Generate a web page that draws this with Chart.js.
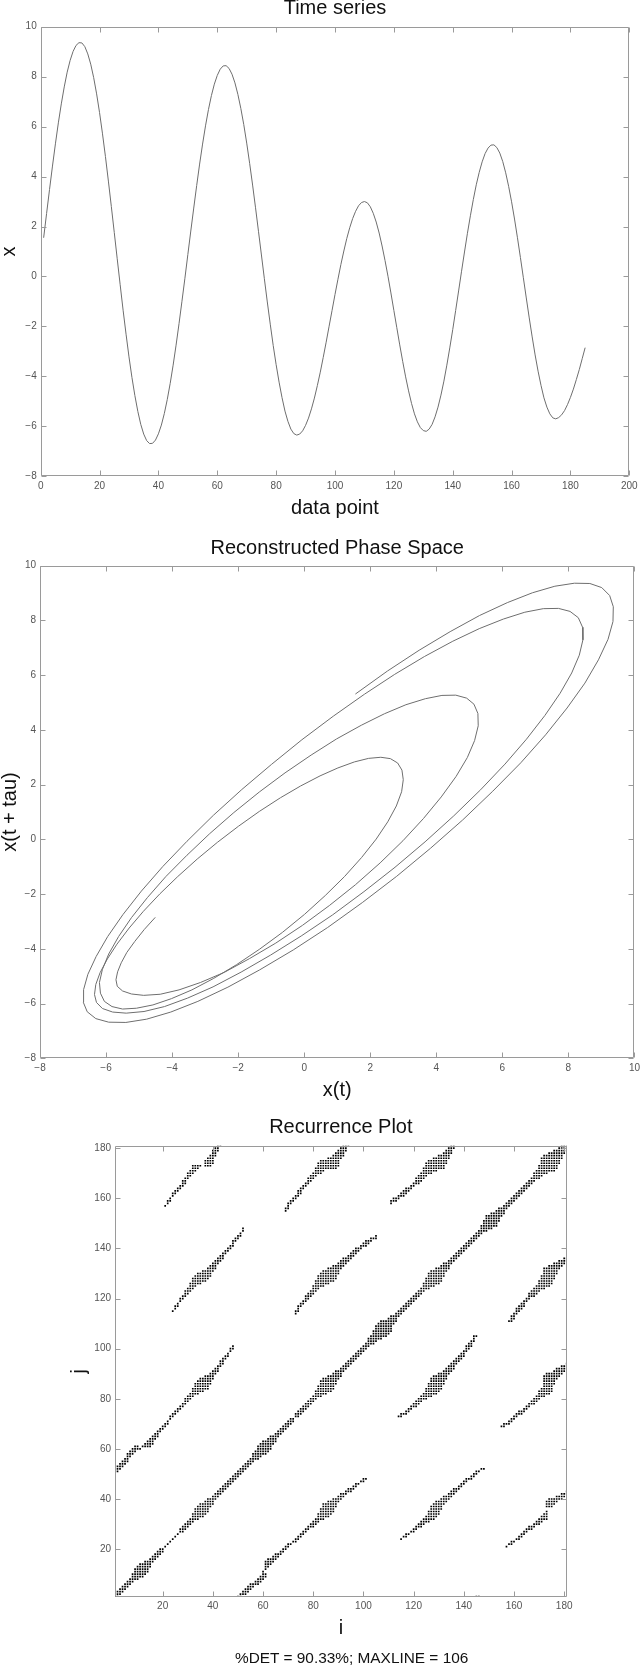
<!DOCTYPE html>
<html lang="en">
<head>
<meta charset="utf-8">
<title>Recurrence plot</title>
<script src="https://cdn.jsdelivr.net/npm/chart.js@4.4.1/dist/chart.umd.min.js"></script>
<style>
  html, body { margin: 0; padding: 0; background: #fff; }
  body { position: relative; width: 644px; height: 1666px; overflow: hidden; font-family: "Liberation Sans", Arial, sans-serif; }
  canvas { position: absolute; left: 0; }
  #graficoSerie { top: -10px; }
  #graficoFase { top: 530px; }
  #graficoRP { top: 1110px; }
  #resumen { position: absolute; left: 151.7px; width: 400px; top: 1648.7px; text-align: center; font-size: 15.4px; line-height: 18px; color: #111; }
</style>
</head>
<body>
<canvas id="graficoSerie" width="644" height="550"></canvas>
<canvas id="graficoFase" width="644" height="580"></canvas>
<canvas id="graficoRP" width="644" height="540"></canvas>
<div id="resumen">%DET = 90.33%; MAXLINE = 106</div>
<script>
//serie temporal, un valor por punto (t = 1..185)
const serie = [
    1.55, 2.52, 3.48, 4.42, 5.31, 6.15, 6.91, 7.59, 8.18, 8.65, 9.01, 9.25, 9.36,
    9.35, 9.20, 8.91, 8.50, 7.96, 7.31, 6.56, 5.71, 4.80, 3.82, 2.80, 1.76, 0.71, -0.33,
    -1.35, -2.31, -3.22, -4.04, -4.77, -5.40, -5.92, -6.31, -6.57, -6.69,
    -6.68, -6.55, -6.30, -5.95, -5.49, -4.93, -4.28, -3.55, -2.75, -1.89, -0.99, -0.07,
    0.88, 1.82, 2.74, 3.64, 4.50, 5.30, 6.03, 6.68, 7.24, 7.70, 8.05, 8.30, 8.43,
    8.44, 8.33, 8.10, 7.75, 7.29, 6.73, 6.08, 5.34, 4.53, 3.66, 2.75, 1.81, 0.86,
    -0.09, -1.02, -1.91, -2.76, -3.53, -4.23, -4.85, -5.39, -5.80, -6.11, -6.29, -6.35,
    -6.31, -6.18, -5.96, -5.67, -5.30, -4.87, -4.37, -3.83, -3.24, -2.63, -1.99, -1.36,
    -0.72, -0.11, 0.48, 1.02, 1.52, 1.95, 2.32, 2.61, 2.83, 2.96, 3.00,
    2.95, 2.79, 2.53, 2.18, 1.74, 1.22, 0.64, 0.01, -0.66, -1.36, -2.05, -2.74,
    -3.40, -4.02, -4.58, -5.08, -5.50, -5.82, -6.05, -6.17,
    -6.20, -6.11, -5.92, -5.62, -5.23, -4.75, -4.19, -3.55, -2.86, -2.13, -1.36, -0.58,
    0.21, 0.98, 1.73, 2.43, 3.08, 3.67, 4.17, 4.59, 4.92, 5.14, 5.26,
    5.27, 5.16, 4.94, 4.60, 4.15, 3.61, 2.99, 2.30, 1.55, 0.76, -0.05, -0.86,
    -1.66, -2.42, -3.14, -3.79, -4.36, -4.86, -5.23, -5.50, -5.66,
    -5.70, -5.65, -5.54, -5.37, -5.13, -4.84, -4.51, -4.13, -3.73, -3.29, -2.85
];
const ticksTiempo = [0, 20, 40, 60, 80, 100, 120, 140, 160, 180, 200];
const ticksValor = [-8, -6, -4, -2, 0, 2, 4, 6, 8, 10];
const ticksRP = [20, 40, 60, 80, 100, 120, 140, 160, 180];
const titulos = ["Time series", "Reconstructed Phase Space", "Recurrence Plot"];
const retardo = 4; //tau del embebido
const umbral = 1.3; //radio para considerar recurrencia

//vectores embebidos (x(t), x(t + tau))
const vectores = [];
for (let k = 0; k + retardo < serie.length; k++) {
    vectores.push([serie[k], serie[k + retardo]]);
}
const puntosSerie = serie.map((v, k) => ({x: k + 1, y: v}));
const puntosFase = vectores.map(v => ({x: v[0], y: v[1]}));
const puntosRP = [];
vectores.forEach((a, i) => {
    vectores.forEach((b, j) => {
        if (Math.hypot(a[0] - b[0], a[1] - b[1]) <= umbral) puntosRP.push({x: i + 1, y: j + 1});
    });
});

Chart.defaults.font.family = '"Liberation Sans", Arial, Helvetica, sans-serif';

//caja con marcas hacia dentro (estilo matlab)
const cajaMatlab = {
    id: "cajaMatlab",
    afterDatasetsDraw(chart) {
        const {ctx, chartArea: a, scales} = chart;
        const largo = 5;
        const izq = Math.round(a.left) + 0.5, der = Math.round(a.right) - 0.5;
        const arr = Math.round(a.top) + 0.5, abj = Math.round(a.bottom) - 0.5;
        ctx.save();
        ctx.strokeStyle = "#9a9a9a";
        ctx.lineWidth = 1;
        ctx.beginPath();
        ctx.rect(izq, arr, der - izq, abj - arr);
        scales.x.ticks.forEach(t => {
            const px = Math.round(scales.x.getPixelForValue(t.value)) + 0.5;
            ctx.moveTo(px, abj); ctx.lineTo(px, abj - largo);
            ctx.moveTo(px, arr); ctx.lineTo(px, arr + largo);
        });
        scales.y.ticks.forEach(t => {
            const py = Math.round(scales.y.getPixelForValue(t.value)) + 0.5;
            ctx.moveTo(izq, py); ctx.lineTo(izq + largo, py);
            ctx.moveTo(der, py); ctx.lineTo(der - largo, py);
        });
        ctx.stroke();
        ctx.restore();
    }
};

const formato = v => v < 0 ? "\u2212" + Math.abs(v) : String(v);

const escala = (min, max, lista, texto, padTitulo, ancho, alto) => ({
    type: "linear",
    min: min,
    max: max,
    afterBuildTicks: s => { s.ticks = lista.map(v => ({value: v})); },
    afterFit: s => {
        if (ancho) s.width = ancho;
        if (alto) s.height = alto;
    },
    grid: {display: false, drawTicks: false},
    border: {display: false},
    ticks: {color: "#555", font: {size: 10}, padding: 4, autoSkip: false, maxRotation: 0, callback: formato},
    title: {display: true, text: texto, color: "#111", font: {size: 20}, padding: padTitulo}
});

const opcionesBase = (titulo, padTitulo, padding) => ({
    responsive: false,
    animation: false,
    events: [],
    layout: {padding: padding},
    plugins: {
        legend: {display: false},
        tooltip: {enabled: false},
        title: {display: true, text: titulo, color: "#111", font: {size: 20, weight: "normal"}, padding: padTitulo, fullSize: false}
    }
});

//grafico 1: serie temporal
new Chart(document.getElementById("graficoSerie"), {
    type: "scatter",
    data: {datasets: [{data: puntosSerie, showLine: true, pointRadius: 0, borderColor: "#6e6e6e", borderWidth: 1, tension: 0}]},
    options: {
        ...opcionesBase(titulos[0], {top: 6.07, bottom: 6.63}, {top: 0, left: 0, right: 14.7, bottom: 13.7}),
        scales: {
            x: escala(0, 200, ticksTiempo, "data point", {top: 0, bottom: 6.23}, null, 50),
            y: escala(-8, 10, ticksValor, "x", {top: -3, bottom: 0}, 40.7, null)
        }
    },
    plugins: [cajaMatlab]
});

//grafico 2: espacio de fases reconstruido
new Chart(document.getElementById("graficoFase"), {
    type: "scatter",
    data: {datasets: [{data: puntosFase, showLine: true, pointRadius: 0, borderColor: "#6e6e6e", borderWidth: 1, tension: 0}]},
    options: {
        ...opcionesBase(titulos[1], {top: 6.07, bottom: 5.63}, {top: 0, left: 0, right: 7.3, bottom: 1.7}),
        scales: {
            x: escala(-8, 10, ticksValor, "x(t)", {top: 0, bottom: 6.23}, null, 50),
            y: escala(-8, 10, ticksValor, "x(t + tau)", {top: -1.7, bottom: 0}, 40, null)
        }
    },
    plugins: [cajaMatlab]
});

//grafico 3: recurrence plot
new Chart(document.getElementById("graficoRP"), {
    type: "scatter",
    data: {datasets: [{data: puntosRP, pointRadius: 1.2, pointStyle: "rect", backgroundColor: "#000", borderWidth: 0}]},
    options: {
        ...opcionesBase(titulos[2], {top: 5.07, bottom: 6.63}, {top: 0, left: 0, right: 77.3, bottom: 3.3}),
        scales: {
            x: escala(1, 181, ticksRP, "i", {top: 0, bottom: 6.63}, null, 50),
            y: escala(1, 181, ticksRP, "j", {top: 67.2, bottom: 0}, 115, null)
        }
    },
    plugins: [cajaMatlab]
});
</script>
</body>
</html>
